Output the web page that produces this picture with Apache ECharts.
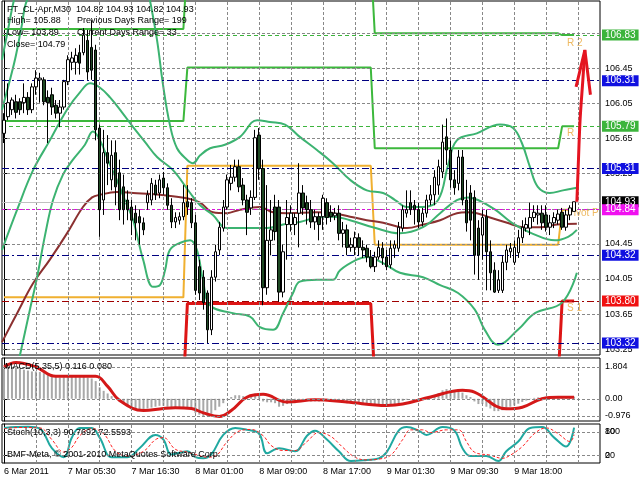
<!DOCTYPE html>
<html><head><meta charset="utf-8">
<script src="https://cdn.jsdelivr.net/npm/echarts@6/dist/echarts.min.js"></script>
<style>html,body{margin:0;padding:0;background:#fff}#c{width:640px;height:480px}</style>
</head><body><div id="c"></div>
<script>
// ---------- data ----------
const timeLabels = ['6 Mar 2011','7 Mar 05:30','7 Mar 16:30','8 Mar 01:00','8 Mar 09:00','8 Mar 17:00','9 Mar 01:30','9 Mar 09:30','9 Mar 18:00'];
const opens = [105.71,105.90,105.98,106.07,106.07,106.06,106.12,105.98,106.24,106.32,
106.32,106.12,106.15,106.03,105.94,106.01,106.30,106.52,106.52,106.63,
106.63,106.77,106.69,106.66,105.77,104.95,105.49,105.18,105.49,105.26,
105.10,104.95,104.87,104.80,104.76,104.69,104.92,104.95,105.12,105.03,
105.20,105.09,104.89,104.70,104.72,104.76,104.93,104.92,104.69,104.19,
104.07,103.89,103.47,104.07,104.38,104.63,104.87,105.14,105.21,105.33,
105.12,104.95,104.86,104.98,105.69,105.31,103.95,104.49,104.87,104.87,
103.90,104.67,104.67,104.67,104.80,105.03,104.92,104.84,104.70,104.76,
104.76,104.92,104.81,104.77,104.80,104.57,104.61,104.41,104.41,104.52,
104.41,104.40,104.30,104.19,104.30,104.40,104.30,104.21,104.40,104.40,
104.63,104.80,104.92,104.89,104.84,104.70,104.80,104.95,105.01,105.12,
105.27,105.67,105.52,105.18,105.14,105.44,104.95,105.03,104.98,104.63,
104.55,104.76,104.36,104.15,103.92,103.92,104.24,104.36,104.24,104.35,
104.52,104.63,104.63,104.75,104.78,104.80,104.78,104.64,104.69,104.72,
104.81,104.64,104.78,104.82];
const closes = [105.86,106.06,106.09,105.95,105.98,106.12,105.98,106.24,106.34,106.34,
106.07,106.06,106.01,105.94,106.01,106.30,106.55,106.57,106.60,106.51,
106.83,106.41,106.43,105.75,104.84,105.49,105.37,105.46,105.10,104.84,
104.84,104.84,104.72,104.69,104.69,104.61,105.01,105.14,105.01,105.18,
105.09,104.89,104.70,104.75,104.76,104.92,104.87,104.69,103.92,103.89,
103.78,103.47,104.07,104.36,104.64,104.87,105.18,105.21,105.33,105.10,
104.95,104.81,104.98,105.66,105.31,103.95,104.49,104.61,104.59,103.90,
104.36,104.75,104.80,104.75,105.03,104.86,104.84,104.70,104.76,104.67,
104.97,104.75,104.76,104.80,104.57,104.61,104.41,104.44,104.52,104.41,
104.38,104.30,104.19,104.30,104.41,104.29,104.19,104.40,104.44,104.64,
104.84,104.84,104.84,104.84,104.70,104.80,104.95,105.01,105.21,105.33,
105.61,105.52,105.18,105.09,105.44,104.95,104.69,104.72,104.32,104.32,
104.75,104.36,104.12,103.90,104.04,104.24,104.38,104.40,104.41,104.52,
104.64,104.67,104.75,104.81,104.80,104.69,104.64,104.69,104.75,104.79,
104.64,104.78,104.86,104.93];
const highs = [105.94,106.28,106.12,106.15,106.11,106.28,106.18,106.28,106.43,106.40,
106.35,106.20,106.23,106.09,106.09,106.32,106.60,106.64,106.68,106.72,
106.91,106.89,107.00,106.72,105.81,105.75,105.69,105.63,105.63,105.41,
105.24,105.06,104.95,104.89,104.84,104.75,105.06,105.20,105.18,105.24,
105.27,105.14,104.97,104.81,104.81,105.12,105.12,104.97,104.78,104.27,
104.15,103.92,104.15,104.44,104.70,104.95,105.24,105.35,105.41,105.41,
105.20,105.01,105.06,105.75,105.77,105.41,105.12,104.95,105.01,104.95,
104.44,104.95,104.89,104.80,105.37,105.12,105.00,104.95,104.84,104.81,
105.01,104.97,104.89,104.86,104.89,104.70,104.67,104.52,104.59,104.57,
104.49,104.44,104.38,104.36,104.49,104.47,104.38,104.49,104.49,104.70,
104.89,105.06,105.06,104.95,104.92,104.86,105.01,105.12,105.29,105.41,
105.81,105.88,105.63,105.29,105.52,105.52,105.18,105.12,105.06,104.72,
104.84,104.84,104.49,104.24,104.15,104.32,104.44,104.46,104.49,104.61,
104.72,104.75,104.92,104.89,104.89,104.89,104.89,104.78,104.81,104.84,
104.86,104.84,104.89,104.93];
const lows = [105.60,105.86,105.92,105.88,105.92,105.94,105.92,105.94,106.15,106.06,
106.03,105.60,105.92,105.88,105.78,105.98,106.26,106.43,106.38,106.38,
106.60,106.32,106.32,105.63,104.53,104.78,105.12,105.06,104.89,104.72,
104.67,104.72,104.55,104.49,104.44,104.55,104.84,104.89,104.95,104.97,
105.01,104.84,104.63,104.63,104.67,104.72,104.78,104.63,103.87,103.81,
103.70,103.32,103.41,104.02,104.32,104.59,104.84,105.06,105.16,105.04,
104.89,104.55,104.78,104.95,105.18,103.75,103.87,104.32,104.49,103.79,
103.84,104.27,104.59,104.55,104.41,104.78,104.67,104.63,104.61,104.49,
104.61,104.67,104.70,104.72,104.49,104.41,104.32,104.36,104.32,104.32,
104.29,104.24,104.17,104.13,104.27,104.21,104.15,104.17,104.29,104.36,
104.59,104.75,104.78,104.67,104.63,104.65,104.75,104.89,104.89,105.01,
105.20,105.35,105.09,105.01,105.06,104.89,104.59,104.49,104.10,104.04,
104.27,103.92,103.92,103.89,103.89,103.89,104.15,104.29,104.21,104.29,
104.46,104.59,104.55,104.70,104.67,104.61,104.59,104.55,104.63,104.67,
104.61,104.60,104.72,104.82];

// moving average and bands, read as [bar, price] points
const maLine = [[-0.5,103.33],[3.3,103.66],[7.3,104.00],[11.5,104.27],[15.8,104.57],[19.8,104.87],[22.1,104.98],[24.1,105.01],[28.3,105.04],[32.4,105.03],[39.1,105.01],[45.9,104.97],[49.2,104.92],[52.4,104.81],[55.9,104.80],[59.2,104.84],[64.2,104.87],[67.5,104.81],[71,104.80],[78.5,104.81],[82.5,104.80],[86.8,104.76],[91,104.72],[95.1,104.69],[99.3,104.64],[101.1,104.63],[105.1,104.67],[109.4,104.72],[113.6,104.80],[116.1,104.81],[118.6,104.80],[121.9,104.75],[126.2,104.69],[130.2,104.64],[134.4,104.64],[138.7,104.67],[143.7,104.68]];
const bandUpperOuter = [[-0.5,106.55],[1,106.89],[2.5,107.23],[6.5,107.91],[14,108.48],[21.6,108.71],[29.1,108.37],[34.1,107.80],[36.6,107.23],[38.4,106.77],[39.9,106.26],[41.6,105.81],[43.4,105.54],[45.9,105.41],[47.4,105.37],[49.2,105.46],[51.7,105.54],[55.4,105.58],[59.2,105.67],[63.5,105.86],[66.7,105.84],[70.5,105.81],[74.2,105.67],[78.5,105.52],[82.5,105.37],[86.8,105.18],[91,105.06],[95.1,105.03],[98.1,104.95],[101.1,104.87],[105.1,104.87],[108.9,104.95],[111.4,105.35],[113.6,105.63],[118.6,105.71],[124.4,105.81],[127.7,105.77],[129.9,105.60],[131.9,105.33],[133.9,105.10],[136.9,105.03],[140.2,105.06],[143.7,105.09]];
const bandUpperInner = [[-0.5,105.98],[1.5,106.32],[3,106.60],[4.5,106.95],[5.8,107.23],[11.5,107.69],[24.1,107.69]];
const bandLowerInner = [[-0.5,104.38],[3.3,104.84],[7.3,105.29],[11.5,105.63],[15.8,105.98],[19.1,106.18],[21.6,106.28],[24.1,106.23],[26.6,106.12],[29.6,105.95],[32.4,105.78],[35.4,105.61],[38.4,105.44],[42.4,105.29],[46.7,105.03],[49.2,104.89],[52.4,104.78],[55.9,104.63],[60.9,104.63],[66,104.63],[70,104.67],[74.2,104.70],[78.5,104.75],[82.5,104.76],[86.8,104.72],[92.5,104.64],[99.3,104.57],[105.1,104.64],[109.4,104.80],[113.6,104.95],[116.4,104.98],[118.9,104.95],[123.2,104.84],[127.4,104.69],[132.4,104.57],[138.2,104.49],[141.5,104.53],[143.7,104.61]];
const bandLowerOuter = [[1.5,102.67],[4,103.18],[6.5,103.70],[8.3,104.07],[10.3,104.55],[12.3,104.95],[14.8,105.24],[17.3,105.41],[20.3,105.58],[22.3,105.73],[24.1,105.63],[26.6,105.35],[28.3,105.18],[30.3,104.95],[32.4,104.72],[34.9,104.27],[37.4,103.96],[39.1,103.98],[40.4,104.15],[41.6,104.38],[44.1,104.46],[46.7,104.49],[48.4,104.38],[49.9,104.04],[51.7,103.75],[57.4,103.66],[61.7,103.62],[64.2,103.50],[67.5,103.47],[70,103.66],[72.5,103.89],[74.2,104.02],[78.5,104.04],[82.5,104.04],[84.3,104.15],[88.5,104.27],[91,104.30],[95.1,104.23],[99.3,104.12],[105.1,104.07],[109.4,103.98],[113.9,103.89],[118.1,103.70],[120.6,103.47],[123.9,103.30],[128.9,103.47],[133.2,103.66],[140,103.78],[143.7,104.12]];

// daily pivot levels
const dayStarts = [0, 46, 93, 140];
const r2Levels = [106.90, 107.70, 106.85, 106.83];
const r1Levels = [105.85, 106.46, 105.54, 105.79];
const pivotLevels = [103.84, 105.34, 104.44, 104.84];
const s1Levels = [102.80, 103.77, 102.90, 103.80];
const pivotNames = ['R 2', 'R', 'Pivot P', 'S 1'];

// horizontal level lines with price tags
const levelValues = [106.83, 106.31, 105.79, 105.31, 104.93, 104.84, 104.32, 103.80, 103.32];
const levelKinds  = ['green','navy','green','navy','bid','magenta','navy','red','navy'];

// hand drawn arrow (bar, price)
const arrowShaft = [[143.7,104.93],[144.0,105.29],[144.5,105.86],[145.2,106.32],[145.7,106.66]];
const arrowHead = [[143.5,106.24],[145.7,106.66],[147.1,106.15]];

// MACD(5,35,5)
const macdHist = [1.70,1.75,1.80,1.78,1.72,1.65,1.60,1.55,1.55,1.52,
 1.45,1.35,1.30,1.25,1.20,1.22,1.25,1.25,1.25,1.22,
 1.25,1.20,1.15,1.00,0.65,0.45,0.30,0.15,0.00,-0.15,
 -0.30,-0.40,-0.50,-0.55,-0.60,-0.62,-0.55,-0.50,-0.45,-0.40,
 -0.40,-0.45,-0.55,-0.55,-0.55,-0.50,-0.50,-0.55,-0.80,-0.90,
 -0.98,-0.98,-0.85,-0.65,-0.45,-0.25,-0.05,0.10,0.20,0.20,
 0.15,0.10,0.10,0.30,0.25,-0.15,-0.20,-0.20,-0.25,-0.45,
 -0.40,-0.30,-0.25,-0.25,-0.10,-0.10,-0.10,-0.15,-0.15,-0.15,
 -0.05,-0.05,-0.08,-0.08,-0.15,-0.18,-0.25,-0.28,-0.28,-0.30,
 -0.32,-0.35,-0.40,-0.40,-0.38,-0.40,-0.42,-0.38,-0.35,-0.25,
 -0.12,-0.05,0.00,0.00,-0.05,-0.03,0.05,0.12,0.22,0.32,
 0.48,0.55,0.50,0.45,0.50,0.35,0.20,0.10,-0.15,-0.30,
 -0.30,-0.45,-0.55,-0.70,-0.70,-0.65,-0.55,-0.45,-0.38,-0.28,
 -0.18,-0.10,-0.02,0.05,0.08,0.06,0.03,0.04,0.06,0.08,
 0.05,0.07,0.09,0.116];
const macdSignal = [[0,1.80],[3,2.05],[8,1.80],[13,1.27],[23,1.27],[26,0.70],[29,-0.10],[35,-0.67],[40,-0.55],[43,-0.51],[47,-0.55],[50,-0.80],[54,-1.0],[57,-0.67],[61,0.10],[65,0.25],[71,-0.19],[78,-0.06],[86,-0.19],[96,-0.38],[100,-0.30],[107,0.10],[115,0.48],[118,0.38],[126,-0.57],[130,-0.48],[135,0.0],[139,0.08],[143,0.08]];
const macdTicks = [1.804, 0, -0.976];

// Stoch(10,3,3)
const stochMain = [[0,90],[3,92],[6,93],[9,88],[12,38],[15,15],[17,65],[19,90],[22,90],[24,65],[27,15],[31,15],[34,38],[38,72],[40,60],[42,22],[46,30],[48,15],[50,12],[52,22],[55,72],[58,90],[61,85],[64,75],[66,25],[69,38],[73,30],[76,70],[78,83],[81,60],[84,30],[87,5],[91,8],[94,12],[96,28],[99,83],[101,92],[104,83],[106,72],[110,92],[113,83],[115,38],[117,18],[121,18],[124,5],[126,30],[129,55],[132,90],[135,92],[138,65],[141,42],[143,90.77]];
const stochSignal = [[0,88],[4,91],[9,90],[12,60],[15,28],[17,40],[19,70],[22,88],[25,75],[28,30],[31,18],[35,30],[38,60],[40,65],[43,35],[46,28],[48,22],[51,15],[53,18],[56,55],[59,82],[62,86],[65,70],[67,45],[70,32],[73,32],[76,55],[79,78],[82,68],[85,40],[88,15],[91,8],[94,10],[97,20],[100,60],[102,85],[105,85],[107,78],[111,85],[114,85],[116,55],[118,28],[122,20],[125,12],[127,20],[130,42],[133,75],[136,90],[139,75],[142,55],[143,72.56]];
const stochTicks = [20, 80];

const priceTicks = [103.25,103.65,104.05,104.45,104.85,105.25,105.65,106.05,106.45,106.85];
const vGridBars = [8,16,24,32,40,48,56,64,72,80,88,96,104,112,120,128,136,144];

// ---------- build ----------
const SLOTS = 150;
const FONT = 'Liberation Sans';
const cats = Array.from({length: SLOTS}, (_, i) => (i % 16 === 0 && timeLabels[i / 16]) ? timeLabels[i / 16] : '');
const candles = opens.map((o, i) => [o, closes[i], lows[i], highs[i]]);
function perBar(levels) {
  return opens.map((_, i) => { let d = 0; dayStarts.forEach((s, k) => { if (i >= s) d = k; }); return levels[d]; });
}
const kindStyle = {
  green:   {line: '#3cb43c', type: [4, 3], bg: '#3cb43c', fg: '#fff'},
  navy:    {line: '#000080', type: [7, 3, 2, 3], bg: '#1010e0', fg: '#fff'},
  bid:     {line: '#c0c0c0', type: 'solid', bg: '#000', fg: '#fff'},
  magenta: {line: '#e010e0', type: [3, 3], bg: '#f010f0', fg: '#fff'},
  red:     {line: '#a00000', type: [7, 3, 2, 3], bg: '#f01010', fg: '#fff'}
};
const levelMarks = levelValues.map((v, i) => {
  const s = kindStyle[levelKinds[i]];
  return {yAxis: v, lineStyle: {color: s.line, type: s.type, width: 1},
    label: {show: true, backgroundColor: s.bg, color: s.fg}};
});
// chart grid as marker lines (vertical every 8 bars, horizontal at the tick values)
function gridItems(hValues) {
  const mk = () => ({color: '#888888', type: [3, 2], width: 1});
  return vGridBars.map((b) => ({xAxis: b, lineStyle: mk(), label: {show: false}}))
    .concat(hValues.map((v) => ({yAxis: v, lineStyle: mk(), label: {show: false}})));
}
function markOpt(items) {
  return {silent: true, symbol: ['none', 'none'], animation: false,
    label: {show: true, position: 'end', distance: 2, fontSize: 10, fontFamily: FONT, padding: [1, 3, 0, 3],
      formatter: (p) => Number(p.value).toFixed(2)},
    data: items};
}
function valX(gi) {
  return {type: 'value', gridIndex: gi, min: -0.5, max: SLOTS - 0.5, show: false, splitLine: {show: false}};
}
function catX(gi, showLabels) {
  return {type: 'category', gridIndex: gi, data: cats, boundaryGap: true, show: !!showLabels,
    axisLine: {show: false}, axisTick: {show: false}, splitLine: {show: false},
    axisLabel: {show: !!showLabels, interval: (i) => i % 16 === 0, align: 'left', margin: 4,
      color: '#000', fontSize: 9, fontFamily: FONT}};
}
const axisLbl = {color: '#000', fontSize: 9, fontFamily: FONT, margin: 5};
const txt = (s, x, y) => ({type: 'text', left: x, top: y, z: 100, style: {text: s, fill: '#000', font: '9px ' + FONT}});

const chart = echarts.init(document.getElementById('c'), null, {renderer: 'canvas'});
chart.setOption({
  animation: false,
  backgroundColor: '#fff',
  textStyle: {fontFamily: FONT, fontSize: 9},
  grid: [
    {left: 2, top: 1, width: 598, height: 354, show: true, borderColor: '#000', borderWidth: 1},
    {left: 2, top: 358, width: 598, height: 63, show: true, borderColor: '#000', borderWidth: 1},
    {left: 2, top: 424, width: 598, height: 39, show: true, borderColor: '#000', borderWidth: 1}
  ],
  xAxis: [catX(0), valX(0), catX(1), valX(1), catX(2, true), valX(2)],
  yAxis: [
    {type: 'value', gridIndex: 0, position: 'right', min: 103.183, max: 107.219,
      axisLine: {show: true, lineStyle: {color: '#000'}},
      axisTick: {show: true, length: 3, customValues: priceTicks, lineStyle: {color: '#000'}},
      axisLabel: Object.assign({customValues: priceTicks, formatter: (v) => v.toFixed(2)}, axisLbl),
      splitLine: {show: false}},
    {type: 'value', gridIndex: 1, position: 'right', min: -1.26, max: 2.31,
      axisLine: {show: true, lineStyle: {color: '#000'}},
      axisTick: {show: true, length: 3, customValues: macdTicks, lineStyle: {color: '#000'}},
      axisLabel: Object.assign({customValues: macdTicks, formatter: (v) => v === 0 ? '0.00' : String(v)}, axisLbl),
      splitLine: {show: false}},
    {type: 'value', gridIndex: 2, position: 'right', min: 0, max: 100,
      axisLine: {show: true, lineStyle: {color: '#000'}},
      axisTick: {show: true, length: 3, customValues: stochTicks, lineStyle: {color: '#000'}},
      axisLabel: Object.assign({customValues: stochTicks, formatter: (v) => String(v)}, axisLbl),
      splitLine: {show: false}},
    {type: 'value', gridIndex: 2, position: 'right', min: 0, max: 100,
      axisLine: {show: false}, axisTick: {show: false, customValues: stochTicks},
      axisLabel: Object.assign({customValues: stochTicks, formatter: (v) => v === 80 ? '100' : '0'}, axisLbl),
      splitLine: {show: false}}
  ],
  graphic: [
    txt('FT_CL-Apr,M30  104.82 104.93 104.82 104.93', 7, 5),
    txt('High= 105.88', 7, 16), txt('Previous Days Range= 199', 77, 16),
    txt('Low= 103.89', 7, 28), txt('Current Days Range= 33', 77, 28),
    txt('Close= 104.79', 7, 40),
    txt('MACD(5,35,5) 0.116 0.080', 5, 362),
    txt('Stoch(10,3,3) 90.7692 72.5593', 7, 428),
    txt('BMF-Meta, \u00a9 2001-2010 MetaQuotes Software Corp.', 7, 450)
  ],
  series: [
    {name: 'R2', type: 'line', xAxisIndex: 0, yAxisIndex: 0, data: perBar(r2Levels), showSymbol: false, z: 2,
      lineStyle: {color: '#3cb83c', width: 2}},
    {name: 'R1', type: 'line', xAxisIndex: 0, yAxisIndex: 0, data: perBar(r1Levels), showSymbol: false, z: 2,
      lineStyle: {color: '#3cb83c', width: 2}},
    {name: 'Pivot', type: 'line', xAxisIndex: 0, yAxisIndex: 0, data: perBar(pivotLevels), showSymbol: false, z: 2,
      lineStyle: {color: '#f0b030', width: 2}},
    {name: 'S1', type: 'line', xAxisIndex: 0, yAxisIndex: 0, data: perBar(s1Levels), showSymbol: false, z: 2,
      lineStyle: {color: '#dd1515', width: 3}},
    {name: 'pivotNames', type: 'scatter', xAxisIndex: 0, yAxisIndex: 0, symbolSize: 0, z: 2,
      data: [[141, r2Levels[3]], [141, r1Levels[3]], [141, pivotLevels[3]], [141, s1Levels[3]]],
      label: {show: true, position: 'right', distance: 1, color: '#eaa83a', fontSize: 10, fontFamily: FONT,
        formatter: (p) => pivotNames[p.dataIndex]},
      labelLayout: (p) => ({dy: [8, 7, 4, 7][p.dataIndex]})},
    {name: 'MA', type: 'line', xAxisIndex: 1, yAxisIndex: 0, data: maLine, smooth: 0.4, showSymbol: false, z: 3,
      lineStyle: {color: '#8b3030', width: 2},
      markLine: markOpt(gridItems(priceTicks).concat(levelMarks))},
    {name: 'BBu1', type: 'line', xAxisIndex: 1, yAxisIndex: 0, data: bandUpperOuter, smooth: 0.4, showSymbol: false, z: 3,
      lineStyle: {color: '#3cb371', width: 2}},
    {name: 'BBu2', type: 'line', xAxisIndex: 1, yAxisIndex: 0, data: bandUpperInner, smooth: 0.4, showSymbol: false, z: 3,
      lineStyle: {color: '#3cb371', width: 2}},
    {name: 'BBl1', type: 'line', xAxisIndex: 1, yAxisIndex: 0, data: bandLowerInner, smooth: 0.4, showSymbol: false, z: 3,
      lineStyle: {color: '#3cb371', width: 2}},
    {name: 'BBl2', type: 'line', xAxisIndex: 1, yAxisIndex: 0, data: bandLowerOuter, smooth: 0.4, showSymbol: false, z: 3,
      lineStyle: {color: '#3cb371', width: 2}},
    {name: 'price', type: 'candlestick', xAxisIndex: 0, yAxisIndex: 0, data: candles, barWidth: 3, z: 5,
      itemStyle: {color: '#ffffff', color0: '#1f4a24', borderColor: '#000', borderColor0: '#000', borderWidth: 1}},
    {name: 'arrowShaft', type: 'line', xAxisIndex: 1, yAxisIndex: 0, data: arrowShaft, smooth: 0.3, showSymbol: false, z: 6,
      lineStyle: {color: '#e41420', width: 3}},
    {name: 'arrowHead', type: 'line', xAxisIndex: 1, yAxisIndex: 0, data: arrowHead, showSymbol: false, z: 6,
      lineStyle: {color: '#e41420', width: 3}},
    {name: 'MACD', type: 'bar', xAxisIndex: 2, yAxisIndex: 1, data: macdHist, barWidth: 2, z: 2,
      itemStyle: {color: '#a8a8a8'}},
    {name: 'Signal', type: 'line', xAxisIndex: 3, yAxisIndex: 1, data: macdSignal, smooth: 0.4, showSymbol: false, z: 3,
      lineStyle: {color: '#d41818', width: 3}, markLine: markOpt(gridItems(macdTicks))},
    {name: 'StochMain', type: 'line', xAxisIndex: 5, yAxisIndex: 2, data: stochMain, smooth: 0.4, showSymbol: false, z: 3,
      lineStyle: {color: '#20a8a0', width: 2}, markLine: markOpt(gridItems(stochTicks))},
    {name: 'StochSignal', type: 'line', xAxisIndex: 5, yAxisIndex: 2, data: stochSignal, smooth: 0.4, showSymbol: false, z: 4,
      lineStyle: {color: '#ff2020', width: 1, type: [3, 2]}}
  ]
});
</script>
</body></html>
